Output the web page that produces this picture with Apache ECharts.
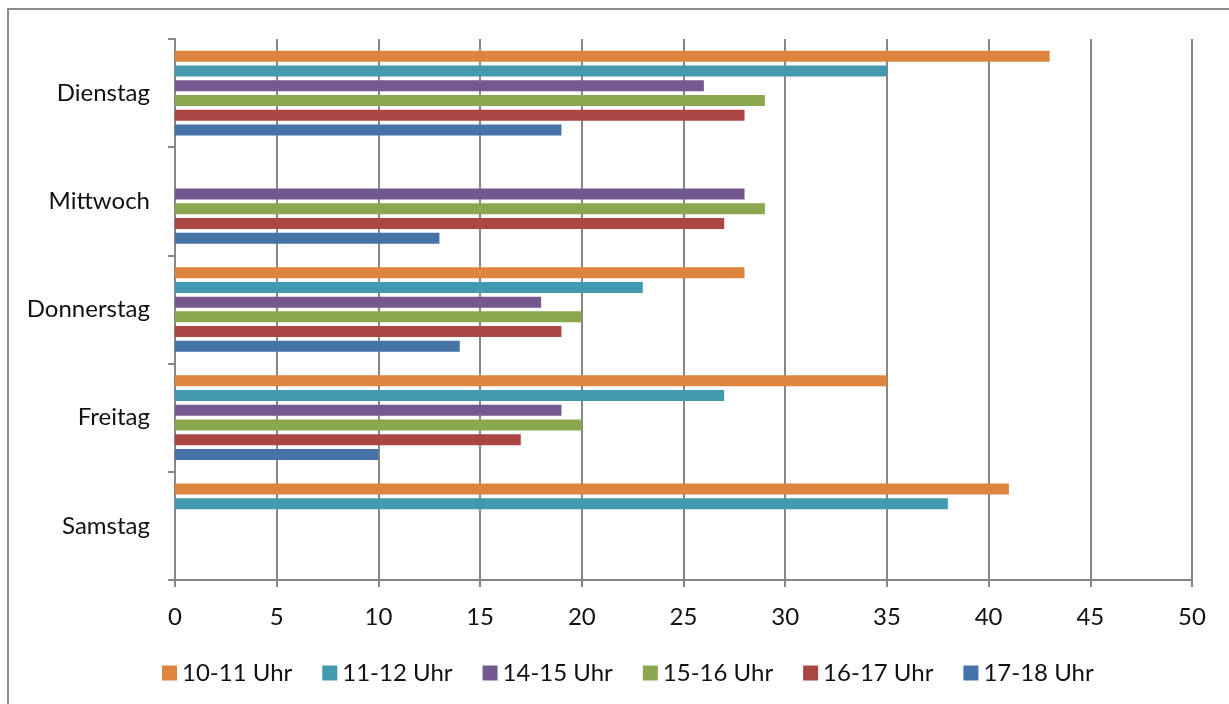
<!DOCTYPE html>
<html>
<head>
<meta charset="utf-8">
<script src="https://cdn.jsdelivr.net/npm/echarts@6/dist/echarts.min.js"></script>
<style>
	html, body { margin: 0; padding: 0; background: #fff; }
	#frame { position: absolute; left: 7px; top: 8px; width: 1240px; height: 720px; border: 2px solid #8a8a8a; box-sizing: border-box; }
	#chart { position: absolute; left: 0; top: 0; width: 1229px; height: 704px; }
</style>
</head>
<body>
<div id="frame"></div>
<div id="chart"></div>
<script>
var days = ['Dienstag', 'Mittwoch', 'Donnerstag', 'Freitag', 'Samstag'];
var slots = ['10-11 Uhr', '11-12 Uhr', '14-15 Uhr', '15-16 Uhr', '16-17 Uhr', '17-18 Uhr'];
var colors = ['#DD843F', '#4399B0', '#74598F', '#8BA74F', '#AA4744', '#4573A7'];
var v10_11 = [43, null, 28, 35, 41];
var v11_12 = [35, null, 23, 27, 38];
var v14_15 = [26, 28, 18, 19, null];
var v15_16 = [29, 29, 20, 20, null];
var v16_17 = [28, 27, 19, 17, null];
var v17_18 = [19, 13, 14, 10, null];
var xTicks = { min: 0, max: 50, interval: 5 };

var values = [v10_11, v11_12, v14_15, v15_16, v16_17, v17_18];
var font = 'Lato, "Open Sans", sans-serif';

var myChart = echarts.init(document.getElementById('chart'));
var series = [];
for (var i = 0; i < slots.length; i++) {
	series.push({
		name: slots[i],
		type: 'bar',
		barWidth: 11,
		barGap: '34%',
		itemStyle: { color: colors[i] },
		data: values[i]
	});
}
var option = {
	animation: false,
	textStyle: { fontFamily: font },
	grid: { left: 175, right: 37, top: 39, bottom: 124 },
	legend: {
		data: slots,
		left: 157,
		bottom: 14,
		icon: 'rect',
		itemWidth: 15,
		itemHeight: 15,
		itemGap: 30,
		textStyle: { fontSize: 24, color: '#111', fontFamily: font }
	},
	xAxis: {
		type: 'value',
		min: xTicks.min,
		max: xTicks.max,
		interval: xTicks.interval,
		axisLine: { show: true, lineStyle: { color: '#868686', width: 2 } },
		axisTick: { show: true, length: 7, lineStyle: { color: '#868686', width: 2 } },
		axisLabel: { fontSize: 24, color: '#111', margin: 25, fontFamily: font },
		splitLine: { lineStyle: { color: '#868686', width: 2 } }
	},
	yAxis: {
		type: 'category',
		data: days,
		inverse: true,
		axisLine: { show: true, lineStyle: { color: '#868686', width: 2 } },
		axisTick: { show: true, inside: false, length: 7, lineStyle: { color: '#868686', width: 2 } },
		axisLabel: { fontSize: 24, color: '#111', margin: 25, fontFamily: font }
	},
	series: series
};
myChart.setOption(option);
</script>
</body>
</html>
